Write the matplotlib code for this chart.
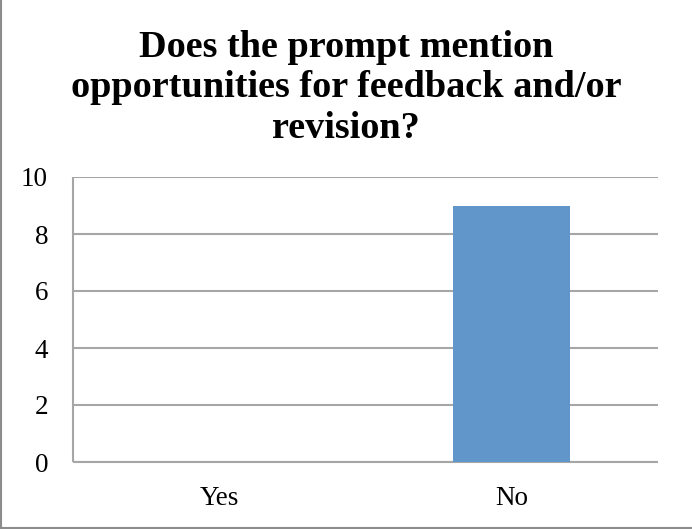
import matplotlib
matplotlib.use("Agg")
import matplotlib.pyplot as plt
from matplotlib.lines import Line2D

categories = ["Yes", "No"]
counts = [0, 9]
yticks = [0, 2, 4, 6, 8, 10]
title = "Does the prompt mention\nopportunities for feedback and/or\nrevision?"

W, H = 692, 529
fig = plt.figure(figsize=(W / 100, H / 100), dpi=100)
fig.patch.set_facecolor("white")

# chart frame: only left and bottom edges lie inside the canvas
frame_kw = dict(transform=fig.transFigure, color="#8c8c8c", linewidth=1.5)
fig.add_artist(Line2D([1.5 / W, 1.5 / W], [1.5 / H, 1.0], **frame_kw))
fig.add_artist(Line2D([1.5 / W, 1.0], [1.5 / H, 1.5 / H], **frame_kw))

ax = fig.add_axes([73 / W, (H - 462) / H, 585 / W, 285 / H])
x = range(len(categories))
ax.bar(x, counts, width=0.40, color="#6096C9", zorder=3)

ax.set_xlim(-0.5, len(categories) - 0.5)
ax.set_ylim(0, 10)
ax.set_yticks(yticks)
ax.set_xticks(list(x))
ax.set_xticklabels(categories)

serif = ["Liberation Serif", "DejaVu Serif"]
for lab in ax.get_xticklabels() + ax.get_yticklabels():
    lab.set_fontfamily(serif)
    lab.set_fontsize(19.5)
ax.tick_params(axis="both", length=0)
ax.tick_params(axis="y", pad=18)
ax.tick_params(axis="x", pad=17)

ax.grid(axis="y", color="#a6a6a6", linewidth=1.5, zorder=0)
for side in ["top", "right"]:
    ax.spines[side].set_visible(False)
for side in ["left", "bottom"]:
    ax.spines[side].set_color("#a6a6a6")
    ax.spines[side].set_linewidth(1.5)
    ax.spines[side].set_capstyle("butt")

fig.text(346 / W, 1 - 30 / H, title, ha="center", va="top",
         fontsize=27.5, fontweight="bold", family=serif, linespacing=1.2)

fig.savefig("out.png", dpi=100, facecolor="white")
